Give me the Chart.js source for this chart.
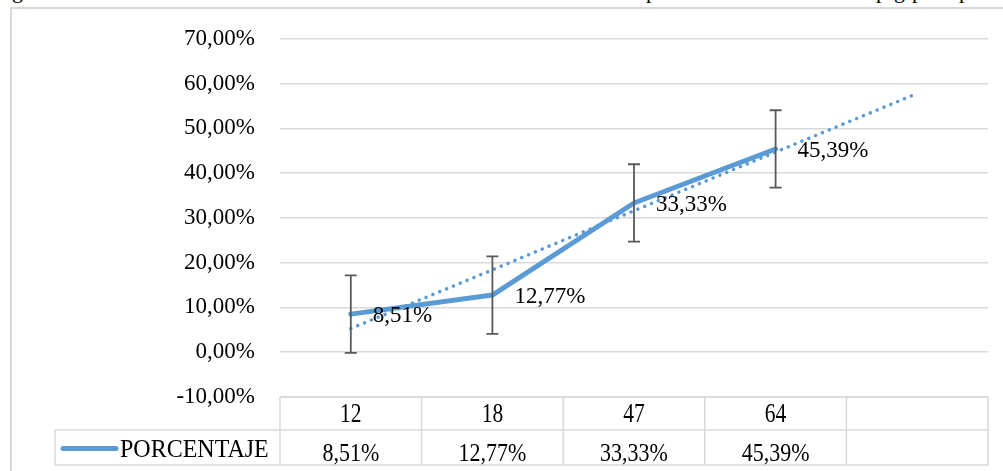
<!DOCTYPE html>
<html>
<head>
<meta charset="utf-8">
<script src="https://cdn.jsdelivr.net/npm/chart.js@4"></script>
<style>
  html, body { margin: 0; padding: 0; background: #fff; overflow: hidden; }
  #page { position: relative; width: 1003px; height: 471px; overflow: hidden; }
  #frame { position: absolute; left: 10px; top: 7px; width: 1100px; height: 600px; border: 2px solid #d9d9d9; }
  #chart { position: absolute; left: 0; top: 0; }
  .cut { position: absolute; font: 22px 'Liberation Serif', 'Times New Roman', serif; line-height: 22px; top: -20px; color: #000; }
</style>
</head>
<body>
<div id="page">
  <!-- bottom of the text line above the chart, cut off by the page -->
  <span class="cut" style="left:12px">g</span>
  <span class="cut" style="left:646px">p</span>
  <span class="cut" style="left:876px">p</span>
  <span class="cut" style="left:894px">g</span>
  <span class="cut" style="left:912px">p</span>
  <span class="cut" style="left:959px">p</span>
  <div id="frame"></div>
  <canvas id="chart" width="1003" height="471"></canvas>
</div>
<script>
// --- DATA ---
const categories = ['12', '18', '47', '64', ''];
const porcentaje = [8.51, 12.77, 33.33, 45.39, null];
const errorMargin = [8.65, 8.65, 8.65, 8.65, null];
const trendValues = [5.3, 18.4, 31.6, 44.7, 57.8];
const seriesName = 'PORCENTAJE';
const yMin = -10, yMax = 70, yStep = 10;

const blue = '#5b9bd5';
const gridColor = '#d9d9d9';
const serif = "'Liberation Serif', 'Times New Roman', serif";

function pct(v) {
    return v.toFixed(2).replace('.', ',') + '%';
}

// the table text in the picture is a bit taller than normal, so stretch it vertically
function stretchedText(ctx, text, x, baseline, size, sy, align) {
    ctx.save();
    ctx.font = size + 'px ' + serif;
    ctx.textAlign = align;
    ctx.textBaseline = 'alphabetic';
    ctx.translate(x, baseline);
    ctx.scale(1, sy);
    ctx.fillText(text, 0, 0);
    ctx.restore();
}

// error bars on the main series
const errorBarsPlugin = {
    id: 'errorBars',
    afterDatasetsDraw(chart) {
        const { ctx, scales: { x, y } } = chart;
        ctx.save();
        ctx.strokeStyle = '#595959';
        ctx.lineWidth = 1.8;
        porcentaje.forEach((v, i) => {
            if (v === null) return;
            const px = x.getPixelForValue(i);
            const top = y.getPixelForValue(v + errorMargin[i]);
            const bottom = y.getPixelForValue(v - errorMargin[i]);
            ctx.beginPath();
            ctx.moveTo(px, top); ctx.lineTo(px, bottom);
            ctx.moveTo(px - 6, top); ctx.lineTo(px + 6, top);
            ctx.moveTo(px - 6, bottom); ctx.lineTo(px + 6, bottom);
            ctx.stroke();
        });
        ctx.restore();
    }
};

// value labels to the right of each point
const valueLabelsPlugin = {
    id: 'valueLabels',
    afterDatasetsDraw(chart) {
        const { ctx, scales: { x, y } } = chart;
        ctx.save();
        ctx.font = '23px ' + serif;
        ctx.fillStyle = '#000';
        ctx.textAlign = 'left';
        ctx.textBaseline = 'middle';
        porcentaje.forEach((v, i) => {
            if (v === null) return;
            ctx.fillText(pct(v), x.getPixelForValue(i) + 22, y.getPixelForValue(v) + 2);
        });
        ctx.restore();
    }
};

// Excel style data table under the plot
const dataTablePlugin = {
    id: 'dataTable',
    afterDraw(chart) {
        const { ctx, chartArea } = chart;
        const x = chart.scales.x;
        const band = (chartArea.right - chartArea.left) / categories.length;
        const top = chartArea.bottom;
        const mid = top + 33;
        const bottom = top + 68;
        const legendLeft = 55;

        ctx.save();
        ctx.strokeStyle = gridColor;
        ctx.lineWidth = 1.5;
        ctx.beginPath();
        ctx.moveTo(chartArea.left, top); ctx.lineTo(chartArea.right, top);
        ctx.moveTo(legendLeft, mid); ctx.lineTo(chartArea.right, mid);
        ctx.moveTo(legendLeft, bottom); ctx.lineTo(chartArea.right, bottom);
        ctx.moveTo(legendLeft, mid); ctx.lineTo(legendLeft, bottom);
        for (let i = 0; i <= categories.length; i++) {
            const bx = chartArea.left + i * band;
            ctx.moveTo(bx, top); ctx.lineTo(bx, bottom);
        }
        ctx.stroke();

        ctx.fillStyle = '#000';
        categories.forEach((c, i) => {
            const cx = x.getPixelForValue(i);
            stretchedText(ctx, c, cx, top + 25, 21.5, 1.3, 'center');
            if (porcentaje[i] !== null) stretchedText(ctx, pct(porcentaje[i]), cx, bottom - 4.5, 22, 1.12, 'center');
        });

        // legend key
        const ky = (mid + bottom) / 2 + 1;
        ctx.strokeStyle = blue;
        ctx.lineWidth = 5;
        ctx.lineCap = 'round';
        ctx.beginPath();
        ctx.moveTo(63, ky); ctx.lineTo(116, ky);
        ctx.stroke();
        stretchedText(ctx, seriesName, 120, bottom - 8, 24, 1.05, 'left');
        ctx.restore();
    }
};

new Chart(document.getElementById('chart'), {
    type: 'line',
    data: {
        labels: categories,
        datasets: [
            {
                label: seriesName,
                data: porcentaje,
                borderColor: blue,
                borderWidth: 5,
                borderJoinStyle: 'round',
                borderCapStyle: 'round',
                pointRadius: 0,
                tension: 0,
                order: 0
            },
            {
                label: 'Tendencia',
                data: trendValues,
                borderColor: blue,
                borderWidth: 3.5,
                borderDash: [0.1, 7.3],
                borderCapStyle: 'round',
                pointRadius: 0,
                tension: 0,
                order: 1
            }
        ]
    },
    options: {
        responsive: false,
        animation: false,
        devicePixelRatio: 1,
        layout: { padding: { top: 36, right: 15, bottom: 74, left: 0 } },
        scales: {
            x: {
                offset: true,
                grid: { display: false },
                border: { display: false },
                ticks: { display: false },
                afterFit: (scale) => { scale.height = 0; }
            },
            y: {
                min: yMin, max: yMax,
                grid: { color: gridColor, lineWidth: 1.5, drawTicks: false },
                border: { display: false },
                ticks: {
                    stepSize: yStep,
                    padding: 25,
                    color: '#000',
                    font: { family: serif, size: 23 },
                    callback: (v) => pct(v)
                },
                afterFit: (scale) => { scale.width = 280; }
            }
        },
        plugins: {
            legend: { display: false },
            tooltip: { enabled: false }
        }
    },
    plugins: [errorBarsPlugin, valueLabelsPlugin, dataTablePlugin]
});
</script>
</body>
</html>
